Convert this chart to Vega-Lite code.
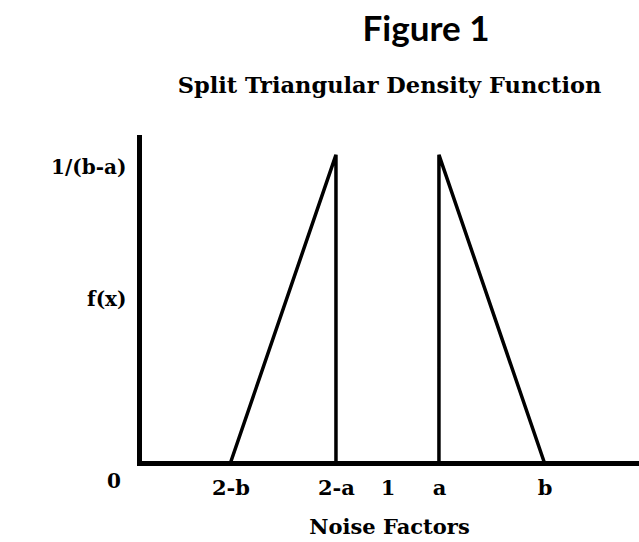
{
  "$schema": "https://vega.github.io/schema/vega-lite/v6.json",
  "width": 500,
  "height": 326,
  "autosize": {"type": "none"},
  "padding": {"left": 139, "top": 137, "right": 0, "bottom": 79},
  "background": "white",
  "title": {"text": "Figure 1", "font": "Lato", "fontWeight": "bold", "fontSize": 35, "color": "black", "anchor": "middle", "dx": 37, "offset": 26},
  "config": {"view": {"stroke": null}, "axis": {"grid": false}},
  "datasets": {
    "shapes": [
      {"shape": "left", "order": 1, "x": 0.39, "f": 0},
      {"shape": "left", "order": 2, "x": 0.8, "f": 1},
      {"shape": "left", "order": 3, "x": 0.8, "f": 0},
      {"shape": "right", "order": 1, "x": 1.2, "f": 0},
      {"shape": "right", "order": 2, "x": 1.2, "f": 1},
      {"shape": "right", "order": 3, "x": 1.61, "f": 0}
    ],
    "origin": [{"x": -0.062, "f": 0, "label": "0"}]
  },
  "layer": [
    {
      "data": {"name": "shapes"},
      "mark": {"type": "line", "color": "black", "strokeWidth": 3.5, "strokeJoin": "miter", "clip": false},
      "encoding": {
        "x": {
          "field": "x", "type": "quantitative",
          "scale": {"domain": [0.035, 1.977], "nice": false, "zero": false},
          "axis": {
            "orient": "bottom", "title": "Noise Factors",
            "values": [0.39, 0.8, 1, 1.2, 1.61],
            "labelExpr": "datum.value == 0.39 ? '2-b' : datum.value == 0.8 ? '2-a' : datum.value == 1 ? '1' : datum.value == 1.2 ? 'a' : 'b'",
            "ticks": false, "domainColor": "black", "domainWidth": 5, "domainCap": "square",
            "labelFont": "DejaVu Serif", "labelFontWeight": "bold", "labelFontSize": 21, "labelColor": "black", "labelPadding": 14,
            "titleFont": "DejaVu Serif", "titleFontWeight": "bold", "titleFontSize": 21, "titleColor": "black", "titlePadding": 18
          }
        },
        "y": {
          "field": "f", "type": "quantitative",
          "scale": {"domain": [0, 1.058], "nice": false},
          "axis": {
            "orient": "left", "title": null, "values": [0.96, 0.53],
            "labelExpr": "datum.value > 0.9 ? '1/(b-a)' : 'f(x)'",
            "ticks": false, "domainColor": "black", "domainWidth": 5, "domainCap": "square",
            "labelFont": "DejaVu Serif", "labelFontWeight": "bold", "labelFontSize": 20, "labelColor": "black", "labelPadding": 13
          }
        },
        "detail": {"field": "shape"},
        "order": {"field": "order"}
      }
    },
    {
      "data": {"name": "origin"},
      "mark": {"type": "text", "font": "DejaVu Serif", "fontWeight": "bold", "fontSize": 20, "color": "black", "align": "center", "baseline": "middle", "dy": 19, "clip": false},
      "encoding": {
        "x": {
          "field": "x", "type": "quantitative",
          "axis": {"orient": "top", "title": "Split Triangular Density Function", "labels": false, "ticks": false, "domain": false,
            "titleFont": "DejaVu Serif", "titleFontWeight": "bold", "titleFontSize": 22.5, "titleColor": "black", "titlePadding": 40}
        },
        "y": {
          "field": "f", "type": "quantitative",
          "axis": {
            "orient": "left", "title": null, "values": [0.96, 0.53],
            "labelExpr": "datum.value > 0.9 ? '1/(b-a)' : 'f(x)'",
            "ticks": false, "domainColor": "black", "domainWidth": 5, "domainCap": "square",
            "labelFont": "DejaVu Serif", "labelFontWeight": "bold", "labelFontSize": 20, "labelColor": "black", "labelPadding": 13
          }
        },
        "text": {"field": "label"}
      }
    }
  ]
}
